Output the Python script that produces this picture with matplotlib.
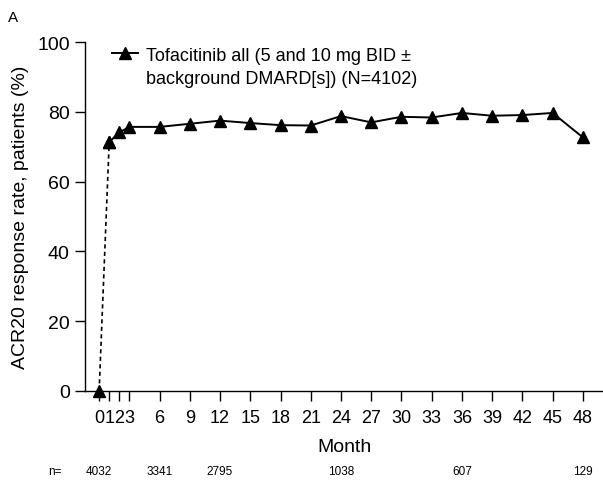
import matplotlib.pyplot as plt
import matplotlib.transforms as mtransforms
from matplotlib.lines import Line2D
import numpy as np

plt.rcParams['font.family'] = ['Liberation Sans', 'DejaVu Sans']

# ACR20 response over time
months = [0, 1, 2, 3, 6, 9, 12, 15, 18, 21, 24, 27, 30, 33, 36, 39, 42, 45, 48]
response = [0, 71.4, 74.1, 75.7, 75.7, 76.6, 77.5, 76.8, 76.2, 76.1, 78.8, 77.0,
            78.6, 78.4, 79.7, 78.9, 79.1, 79.7, 72.7]

n_months = [0, 6, 12, 24, 36, 48]
n_values = ['4032', '3341', '2795', '1038', '607', '129']

legend_lines = ['Tofacitinib all (5 and 10 mg BID \u00b1',
                'background DMARD[s]) (N=4102)']

fig = plt.figure(figsize=(6.03, 4.85), dpi=100)
ax = fig.add_axes([0.141, 0.192, 0.859, 0.719])

# dashed segment from baseline to month 1
ax.plot(months[:2], response[:2], color='black', linestyle=(0, (2.5, 2)), linewidth=1.2,
        marker='^', markersize=9, clip_on=False)
line, = ax.plot(months[1:], response[1:], color='black', linewidth=1.4,
                marker='^', markersize=9, clip_on=False)

ax.set_xlim(-1.4, 50)
ax.set_ylim(0, 100)
ax.set_xticks(months)
ax.set_xticklabels([str(m) for m in months])
ax.set_yticks([0, 20, 40, 60, 80, 100])

ax.spines['top'].set_visible(False)
ax.spines['right'].set_visible(False)
ax.spines['left'].set_linewidth(1.0)
ax.spines['bottom'].set_linewidth(1.0)
ax.tick_params(axis='x', direction='out', length=7, width=1, labelsize=13, pad=6)
ax.tick_params(axis='y', direction='out', length=7, width=1, labelsize=14, pad=4)

ax.set_xlabel('Month', fontsize=14, labelpad=9)
ax.set_ylabel('ACR20 response rate, patients (%)', fontsize=14, labelpad=6)

blank = Line2D([], [], linestyle='none', marker=None)
ax.legend([line, blank], legend_lines, loc='upper left', bbox_to_anchor=(0.039, 1.008),
          frameon=False, fontsize=13, handlelength=1.4, handletextpad=0.45,
          labelspacing=0.35, borderaxespad=0)

# patient numbers row
trans = mtransforms.blended_transform_factory(ax.transData, fig.transFigure)
for m, v in zip(n_months, n_values):
    ax.text(m, 0.027, v, transform=trans, ha='center', va='center', fontsize=8.5)
fig.text(0.091, 0.027, 'n=', ha='center', va='center', fontsize=8.5)

fig.text(0.013, 0.962, 'A', ha='left', va='center', fontsize=11)

fig.savefig('out.png', dpi=100)
